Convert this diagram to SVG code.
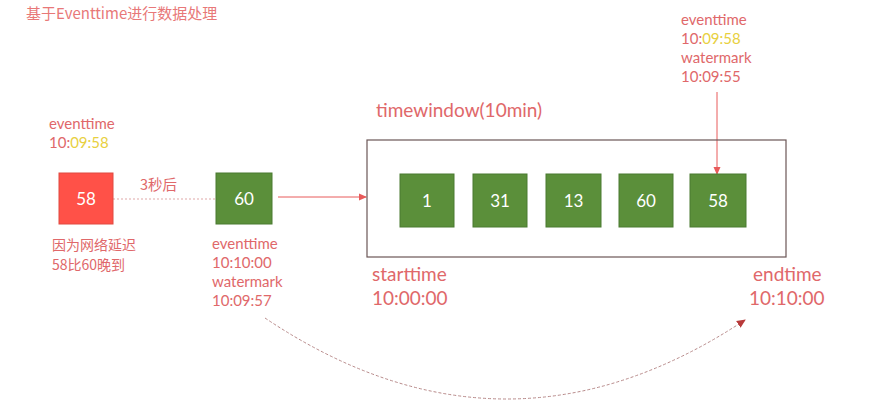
<svg xmlns="http://www.w3.org/2000/svg" width="893" height="412" viewBox="0 0 893 412">
<style>
text{font-family:Lato,"Open Sans","Noto Sans CJK SC",sans-serif;fill:#e0686a}
.s{font-size:15px}
.c{font-size:14px;font-family:"Noto Sans CJK SC",sans-serif}
.m{font-size:19px}
.y{fill:#e8d040}
.w{fill:#ffffff;font-size:17px;text-anchor:middle}
.g{fill:#5b8f3a;stroke:#4a7a30;stroke-width:1}
</style>
<defs>
<marker id="ah" markerWidth="8" markerHeight="8" refX="7" refY="4" orient="auto" markerUnits="userSpaceOnUse">
<path d="M0,0.5 L8,4 L0,7.5 z" fill="#e85a5a"/>
</marker>
<marker id="ah2" markerWidth="9" markerHeight="9" refX="8" refY="4.5" orient="auto" markerUnits="userSpaceOnUse">
<path d="M0,0.5 L9,4.5 L0,8.5 z" fill="#b83a3a"/>
</marker>
</defs>
<rect width="893" height="412" fill="#ffffff"/>
<text x="26" y="19" style="font-size:15px;font-family:'Noto Sans CJK SC',sans-serif;fill:#e87878">基于Eventtime进行数据处理</text>

<g id="connectors">
<line x1="113" y1="199" x2="216" y2="199" stroke="#e0a8a8" stroke-width="1.2" stroke-dasharray="2,2"/>
<line x1="278" y1="197" x2="366" y2="197" stroke="#e85a5a" stroke-width="1" marker-end="url(#ah)"/>
<line x1="717" y1="92" x2="717" y2="174" stroke="#e85a5a" stroke-width="1" marker-end="url(#ah)"/>
<path d="M265,318 Q505,479 745,320" fill="none" stroke="#b88a8a" stroke-width="1" stroke-dasharray="3,2" marker-end="url(#ah2)"/>
</g>

<g id="label-left">
<text class="s" x="49" y="129">eventtime</text>
<text class="s" x="49" y="148">10:<tspan class="y">09:58</tspan></text>
</g>
<g id="node-58-late">
<rect x="59" y="173" width="54" height="51" fill="#ff5148" stroke="#e04a40"/>
<text class="w" x="86" y="205">58</text>
</g>
<text x="140" y="190" class="c" style="font-size:14.5px">3秒后</text>
<g id="label-delay">
<text class="c" x="52" y="250">因为网络延迟</text>
<text class="c" x="52" y="270">58比60晚到</text>
</g>
<g id="node-60-in">
<rect class="g" x="216" y="173" width="56" height="51"/>
<text class="w" x="244" y="205">60</text>
</g>
<g id="label-60">
<text class="s" x="212" y="249">eventtime</text>
<text class="s" x="212" y="268">10:10:00</text>
<text class="s" x="212" y="287">watermark</text>
<text class="s" x="212" y="306">10:09:57</text>
</g>

<g id="timewindow">
<text class="m" x="376" y="117">timewindow(10min)</text>
<rect x="367" y="140" width="419" height="117" fill="none" stroke="#6b5656" stroke-width="1.2"/>
</g>
<g id="w1"><rect class="g" x="400" y="174" width="54" height="53"/><text class="w" x="427" y="207">1</text></g>
<g id="w31"><rect class="g" x="473" y="174" width="54" height="53"/><text class="w" x="500" y="207">31</text></g>
<g id="w13"><rect class="g" x="546" y="174" width="55" height="53"/><text class="w" x="573.5" y="207">13</text></g>
<g id="w60"><rect class="g" x="619" y="174" width="54" height="53"/><text class="w" x="646" y="207">60</text></g>
<g id="w58"><rect class="g" x="690" y="174" width="56" height="53"/><text class="w" x="718" y="207">58</text></g>

<g id="label-top-right">
<text class="s" x="681" y="25">eventtime</text>
<text class="s" x="681" y="44">10:<tspan class="y">09:58</tspan></text>
<text class="s" x="681" y="63">watermark</text>
<text class="s" x="681" y="82">10:09:55</text>
</g>
<g id="label-start">
<text class="m" x="372" y="281">starttime</text>
<text class="m" x="372" y="305">10:00:00</text>
</g>
<g id="label-end">
<text class="m" x="753" y="281">endtime</text>
<text class="m" x="749" y="305">10:10:00</text>
</g>
</svg>
